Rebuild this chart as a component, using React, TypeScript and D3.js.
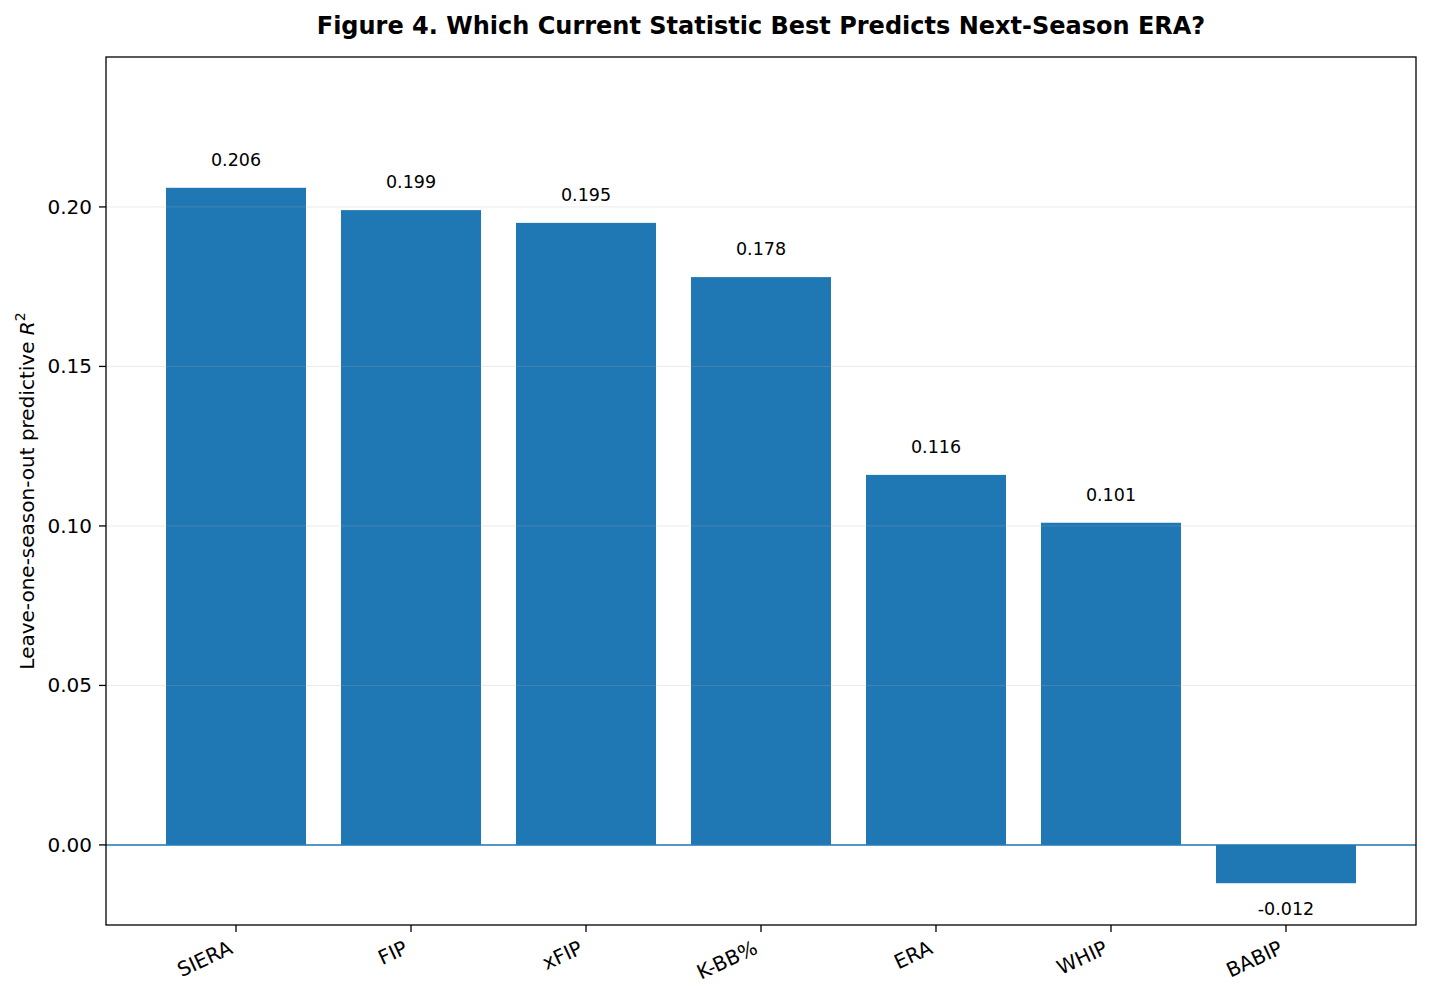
import * as d3 from "d3";

const categories = ["SIERA", "FIP", "xFIP", "K-BB%", "ERA", "WHIP", "BABIP"];
const r2Values = [0.206, 0.199, 0.195, 0.178, 0.116, 0.101, -0.012];
const yTicks = [0.0, 0.05, 0.1, 0.15, 0.2];

const width = 1430;
const height = 999;
const margin = { top: 57, right: 14, bottom: 74, left: 106 };
const blue = "#1f77b4";
const font = "DejaVu Sans, sans-serif";

const App = () => {
  const x = d3
    .scaleLinear()
    .domain([-0.743, categories.length - 1 + 0.743])
    .range([margin.left, width - margin.right]);
  const y = d3
    .scaleLinear()
    .domain([-0.0251, 0.247])
    .range([height - margin.bottom, margin.top]);
  const barW = x(0.8) - x(0);
  const top = margin.top;
  const bottom = height - margin.bottom;

  // rotated tick labels: right edge / top of rotated box pinned under the tick
  const tickFont = 20;
  const asc = 0.76 * tickFont;
  const desc = 0.24 * tickFont;
  const rot = (25 * Math.PI) / 180;

  return (
    <svg
      width={width}
      height={height}
      viewBox={`0 0 ${width} ${height}`}
      style={{ position: "absolute", left: 0, top: 0 }}
      fontFamily={font}
    >
      <rect width={width} height={height} fill="#fff" />
      <text
        x={(margin.left + width - margin.right) / 2}
        y={34}
        textAnchor="middle"
        fontSize={24}
        fontWeight="bold"
      >
        Figure 4. Which Current Statistic Best Predicts Next-Season ERA?
      </text>

      {r2Values.map((v, i) => {
        const y0 = y(Math.max(0, v));
        const y1 = y(Math.min(0, v));
        return (
          <g key={categories[i]}>
            <rect
              x={x(i) - barW / 2}
              y={y0}
              width={barW}
              height={y1 - y0}
              fill={blue}
            />
            <text
              x={x(i)}
              y={v >= 0 ? y(v) - 22 : y(v) + 32}
              textAnchor="middle"
              fontSize={17.5}
            >
              {v.toFixed(3)}
            </text>
          </g>
        );
      })}

      {yTicks.map((t) => (
        <line
          key={`g${t}`}
          x1={margin.left}
          x2={width - margin.right}
          y1={y(t)}
          y2={y(t)}
          stroke="#b0b0b0"
          strokeOpacity={0.25}
          strokeWidth={1}
        />
      ))}

      <line
        x1={margin.left}
        x2={width - margin.right}
        y1={y(0)}
        y2={y(0)}
        stroke={blue}
        strokeWidth={1.5}
      />

      <rect
        x={margin.left}
        y={top}
        width={width - margin.left - margin.right}
        height={bottom - top}
        fill="none"
        stroke="#000"
        strokeWidth={1.3}
      />

      {yTicks.map((t) => (
        <g key={`t${t}`}>
          <line
            x1={margin.left - 7}
            x2={margin.left}
            y1={y(t)}
            y2={y(t)}
            stroke="#000"
            strokeWidth={1.3}
          />
          <text
            x={margin.left - 14}
            y={y(t)}
            textAnchor="end"
            dominantBaseline="central"
            fontSize={tickFont}
          >
            {t.toFixed(2)}
          </text>
        </g>
      ))}

      {categories.map((c, i) => (
        <g key={`x${c}`}>
          <line
            x1={x(i)}
            x2={x(i)}
            y1={bottom}
            y2={bottom + 7}
            stroke="#000"
            strokeWidth={1.3}
          />
          <text
            transform={`translate(${x(i) - Math.sin(rot) * desc}, ${
              bottom + 14 + Math.cos(rot) * asc
            }) rotate(-25)`}
            textAnchor="end"
            fontSize={tickFont}
          >
            {c}
          </text>
        </g>
      ))}

      <text
        transform={`translate(34, ${(top + bottom) / 2}) rotate(-90)`}
        textAnchor="middle"
        fontSize={20}
      >
        Leave-one-season-out predictive <tspan fontStyle="italic">R</tspan>
        <tspan dy={-9} fontSize={14}>
          2
        </tspan>
      </text>
    </svg>
  );
};

export default App;
